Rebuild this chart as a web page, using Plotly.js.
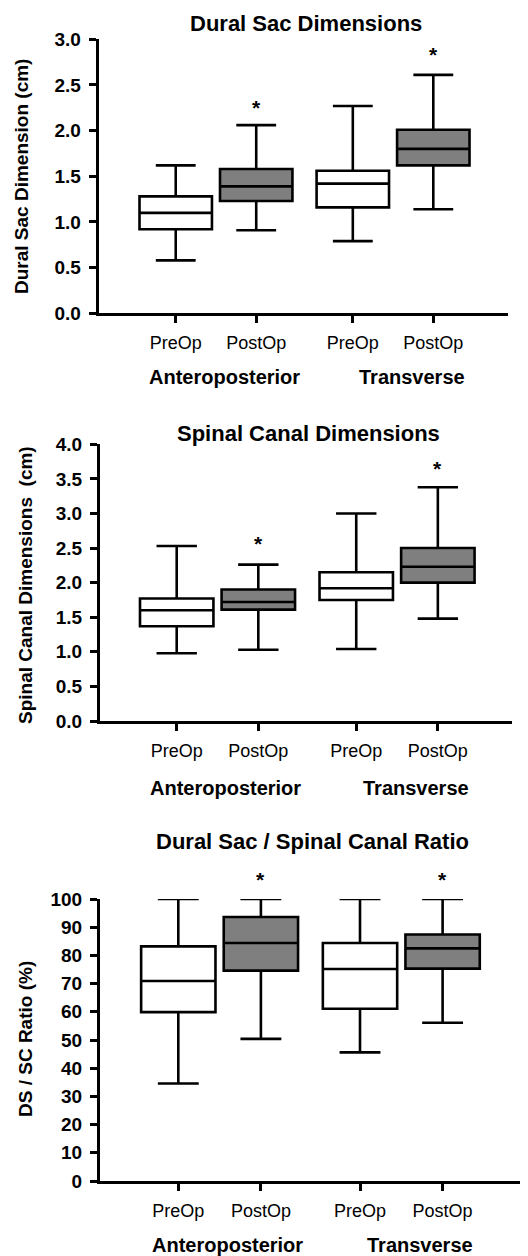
<!DOCTYPE html>
<html>
<head>
<meta charset="utf-8">
<script src="https://cdn.plot.ly/plotly-3.0.1.min.js"></script>
<style>html,body{margin:0;padding:0;background:#fff;}#chart{width:528px;height:1256px;}</style>
</head>
<body>
<div id="chart"></div>
<script>
// ---- data (order: AP PreOp, AP PostOp, T PreOp, T PostOp) ----
const tickLabels = ['PreOp', 'PostOp', 'PreOp', 'PostOp'];
const groupLabels = ['Anteroposterior', 'Transverse'];
const panelTitles = ['Dural Sac Dimensions', 'Spinal Canal Dimensions', 'Dural Sac / Spinal Canal Ratio'];
const yTitles = ['Dural Sac Dimension (cm)', 'Spinal Canal Dimensions  (cm)', 'DS / SC Ratio (%)'];

const dsLow  = [0.58, 0.91, 0.79, 1.14];
const dsQ1   = [0.92, 1.23, 1.16, 1.62];
const dsMed  = [1.10, 1.39, 1.42, 1.80];
const dsQ3   = [1.28, 1.58, 1.56, 2.01];
const dsHigh = [1.62, 2.06, 2.27, 2.61];
const dsStar = [null, 2.28, null, 2.85];

const scLow  = [0.98, 1.03, 1.04, 1.48];
const scQ1   = [1.37, 1.61, 1.75, 2.00];
const scMed  = [1.60, 1.72, 1.92, 2.23];
const scQ3   = [1.77, 1.90, 2.15, 2.50];
const scHigh = [2.53, 2.26, 3.00, 3.38];
const scStar = [null, 2.59, null, 3.68];

const rLow  = [34.6, 50.4, 45.6, 56.1];
const rQ1   = [59.9, 74.6, 61.1, 75.3];
const rMed  = [70.9, 84.4, 75.2, 82.5];
const rQ3   = [83.2, 93.6, 84.4, 87.4];
const rHigh = [100, 100, 100, 100];
const rStar = [null, 107.8, null, 107.8];

// ---- layout constants ----
const W = 528, H = 1256;
const FONT = '"Liberation Sans", Arial, Helvetica, sans-serif';
const pos = [0, 1, 2.2, 3.2];
const groupPos = [0.6, 2.93];
const px = x => x / W;
const py = y => 1 - y / H;

const panels = [
  {low: dsLow, q1: dsQ1, med: dsMed, q3: dsQ3, high: dsHigh, star: dsStar,
   yr: [0, 3], dtick: 0.5, fmt: '.1f', xdom: [98.7, 508], ydom: [313.3, 39.3], xr: [-0.957, 4.128],
   titleXY: [305.7, 23.3], yTitleXY: [21, 177], groupY: 377},
  {low: scLow, q1: scQ1, med: scMed, q3: scQ3, high: scHigh, star: scStar,
   yr: [0, 4], dtick: 0.5, fmt: '.1f', xdom: [100, 511.7], ydom: [721, 444.3], xr: [-0.94, 4.105],
   titleXY: [308, 433], yTitleXY: [25, 585], groupY: 788.3},
  {low: rLow, q1: rQ1, med: rMed, q3: rQ3, high: rHigh, star: rStar,
   yr: [0, 100], dtick: 10, fmt: 'd', xdom: [100, 520], ydom: [1181, 899], xr: [-0.948, 4.137],
   titleXY: [312.5, 841], yTitleXY: [25, 1039], groupY: 1245}
];

const traces = [];
const annotations = [];
const layout = {
  width: W, height: H,
  margin: {l: 0, r: 0, t: 0, b: 0},
  paper_bgcolor: '#ffffff', plot_bgcolor: '#ffffff',
  showlegend: false,
  boxmode: 'overlay',
  font: {family: FONT, color: '#000'},
  annotations: annotations
};

panels.forEach((p, i) => {
  const n = i === 0 ? '' : String(i + 1);
  const xa = 'x' + n, ya = 'y' + n;
  const groups = [[0, 2, '#ffffff'], [1, 3, '#7f7f7f']];
  groups.forEach(g => {
    const idx = [g[0], g[1]];
    traces.push({
      type: 'box', xaxis: xa, yaxis: ya,
      x: idx.map(k => pos[k]),
      lowerfence: idx.map(k => p.low[k]),
      q1: idx.map(k => p.q1[k]),
      median: idx.map(k => p.med[k]),
      q3: idx.map(k => p.q3[k]),
      upperfence: idx.map(k => p.high[k]),
      boxpoints: false,
      width: 0.9,
      whiskerwidth: 0.55,
      fillcolor: g[2],
      line: {color: '#000', width: 2.6},
      hoverinfo: 'skip'
    });
  });
  const yDomLo = py(p.ydom[0]), yDomHi = py(p.ydom[1]);
  layout['xaxis' + n] = {
    anchor: ya, domain: [px(p.xdom[0]), px(p.xdom[1])], range: p.xr,
    showgrid: false, zeroline: false, showline: true, linecolor: '#000', linewidth: 3,
    ticks: 'outside', ticklen: 7, tickwidth: 3, tickcolor: '#000',
    tickvals: pos, ticktext: tickLabels, ticklabelstandoff: 4,
    tickfont: {family: FONT, size: 18, color: '#000'}, fixedrange: true
  };
  layout['yaxis' + n] = {
    anchor: xa, domain: [yDomLo, yDomHi], range: p.yr,
    showgrid: false, zeroline: false, showline: true, linecolor: '#000', linewidth: 3,
    ticks: 'outside', ticklen: 7, tickwidth: 3, tickcolor: '#000',
    dtick: p.dtick, tick0: 0, tickformat: p.fmt, ticklabelstandoff: 4,
    tickfont: {family: FONT, size: 19, color: '#000', weight: 'bold'}, fixedrange: true
  };
  // significance stars (may sit above the axis range, so placed in axis-domain units)
  p.star.forEach((s, k) => {
    if (s === null) return;
    annotations.push({
      xref: xa, yref: ya + ' domain', x: pos[k], y: (s - p.yr[0]) / (p.yr[1] - p.yr[0]),
      xanchor: 'center', yanchor: 'middle', showarrow: false, yshift: -2, text: '*',
      font: {family: FONT, size: 21, color: '#000', weight: 'bold'}
    });
  });
  annotations.push({
    xref: 'paper', yref: 'paper', x: px(p.titleXY[0]), y: py(p.titleXY[1]),
    xanchor: 'center', yanchor: 'middle', showarrow: false,
    text: panelTitles[i], font: {family: FONT, size: 22, color: '#000', weight: 'bold'}
  });
  annotations.push({
    xref: 'paper', yref: 'paper', x: px(p.yTitleXY[0]), y: py(p.yTitleXY[1]),
    xanchor: 'center', yanchor: 'middle', showarrow: false, textangle: -90,
    text: yTitles[i].replace(/  /g, ' &nbsp;'), font: {family: FONT, size: 19, color: '#000', weight: 'bold'}
  });
  groupLabels.forEach((g, j) => {
    annotations.push({
      xref: xa, yref: 'paper', x: groupPos[j], y: py(p.groupY),
      xanchor: 'center', yanchor: 'middle', showarrow: false,
      text: g, font: {family: FONT, size: 20, color: '#000', weight: 'bold'}
    });
  });
});

Plotly.newPlot('chart', traces, layout, {staticPlot: true, displayModeBar: false});
</script>
</body>
</html>
